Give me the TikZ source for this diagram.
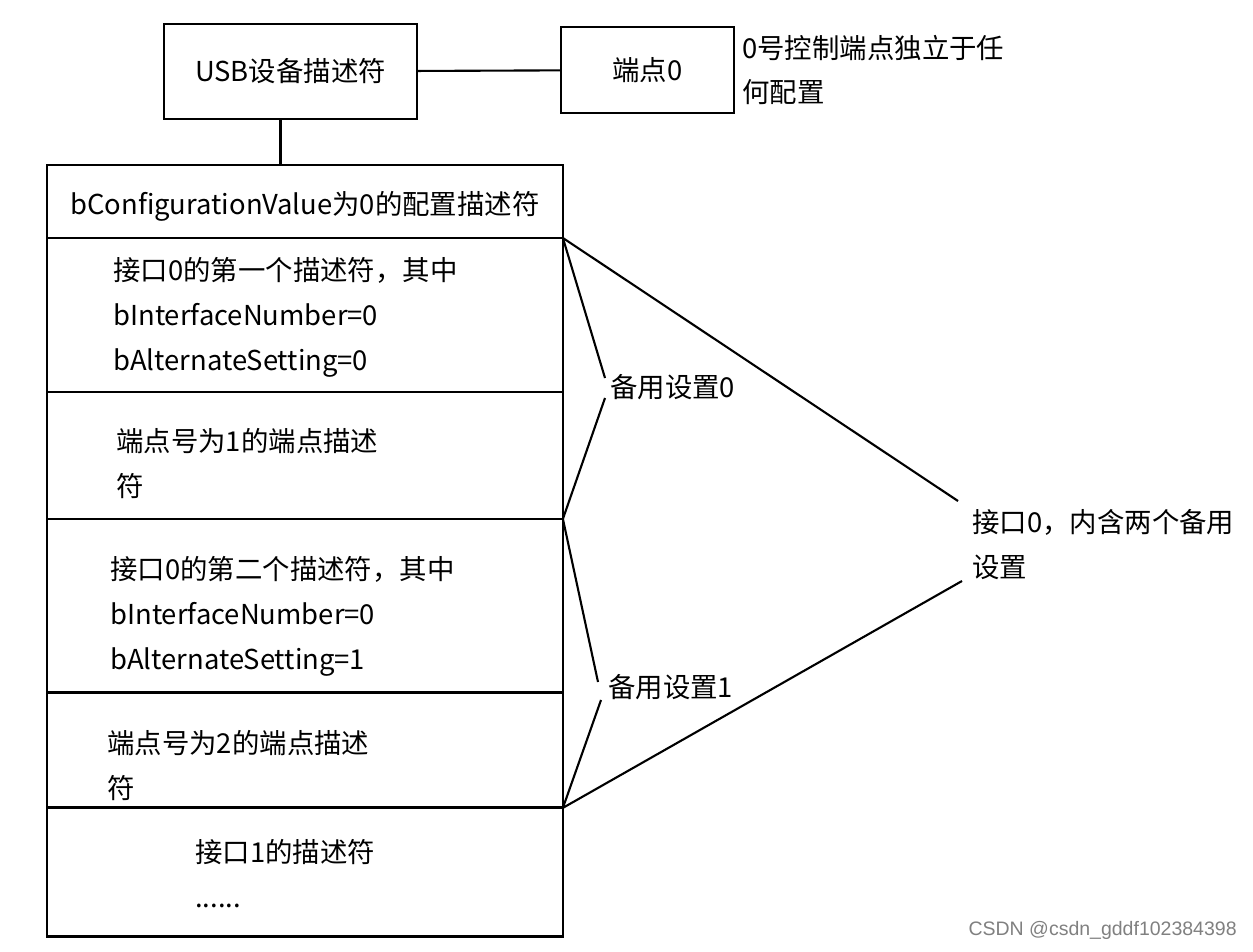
\documentclass[tikz,border=0pt]{standalone}
\usepackage{fontspec}
\setmainfont{Noto Sans CJK SC}
\newfontfamily\wmfont{Liberation Sans}
\usetikzlibrary{positioning}
\newcommand\bodysize{\fontsize{15.6pt}{25.6pt}\selectfont}
\tikzset{
  block/.style={draw=black,line width=1.6pt,outer sep=0pt,inner sep=0pt,minimum width=10.32cm},
  box/.style={draw=black,line width=1.6pt,outer sep=0pt,font=\bodysize},
  desc/.style={font=\bodysize,align=left,anchor=west,inner sep=0.1cm},
  link/.style={line width=1.2pt,draw=black}
}
\begin{document}
\begin{tikzpicture}[x=0.02cm,y=-0.02cm]
  \useasboundingbox (0,0) rectangle (1253,952);
  \node[box,minimum width=5.06cm,minimum height=1.9cm] (usb) at (290.5,71.5) {USB设备描述符};
  \node[box,minimum width=3.46cm,minimum height=1.72cm] (ep0) at (647.5,70) {端点0};
  \node[desc] (note) at (737,70) {0号控制端点独立于任\\何配置};

  % configuration descriptor stack
  \node[block,minimum height=1.46cm,anchor=north west] (cfg) at (47,165) {};
  \node[block,minimum height=3.08cm,below=0pt of cfg] (if0a) {};
  \node[block,minimum height=2.54cm,below=0pt of if0a] (ep1) {};
  \node[block,minimum height=3.48cm,below=0pt of ep1] (if0b) {};
  \node[block,minimum height=2.3cm,below=0pt of if0b] (ep2) {};
  \node[block,minimum height=2.58cm,below=0pt of ep2] (if1) {};

  \node[font=\bodysize] (cfgtxt) at ([yshift=-0.1cm]cfg.center) {bConfigurationValue为0的配置描述符};
  \node[desc] (if0atxt) at (108,317.5) {接口0的第一个描述符，其中\\bInterfaceNumber=0\\bAlternateSetting=0};
  \node[desc] (ep1txt) at (111,464) {端点号为1的端点描述\\符};
  \node[desc] (if0btxt) at (105,616.5) {接口0的第二个描述符，其中\\bInterfaceNumber=0\\bAlternateSetting=1};
  \node[desc] (ep2txt) at (102,766) {端点号为2的端点描述\\符};
  \node[desc] (if1txt) at (190,874) {接口1的描述符\\......};

  \node[desc] (alt0) at (605,387) {备用设置0};
  \node[desc] (alt1) at (603,687) {备用设置1};
  \node[desc] (iface) at (967,544.5) {接口0，内含两个备用\\设置};

  \node[font=\wmfont\fontsize{11.1pt}{14pt}\selectfont,text=gray,anchor=east,inner sep=0pt] (mark) at (1237,930) {CSDN @csdn\_gddf102384398};

  \draw[link] (usb) -- (ep0);
  \draw[link,line width=1.6pt] ([xshift=-0.2cm]usb.south) -- ([xshift=-0.2cm]usb.south |- cfg.north);
  \draw[link] (if0a.north east) -- ([yshift=0.18cm]alt0.west);
  \draw[link] ([yshift=-0.22cm]alt0.west) -- (if0b.north east);
  \draw[link] (if0b.north east) -- ([xshift=-0.1cm,yshift=0.1cm]alt1.west);
  \draw[link] ([xshift=-0.04cm,yshift=-0.26cm]alt1.west) -- (if1.north east);
  \draw[link] (if0a.north east) -- ([xshift=-0.18cm,yshift=0.87cm]iface.west);
  \draw[link] (if1.north east) -- ([xshift=-0.1cm,yshift=-0.73cm]iface.west);
\end{tikzpicture}
\end{document}
